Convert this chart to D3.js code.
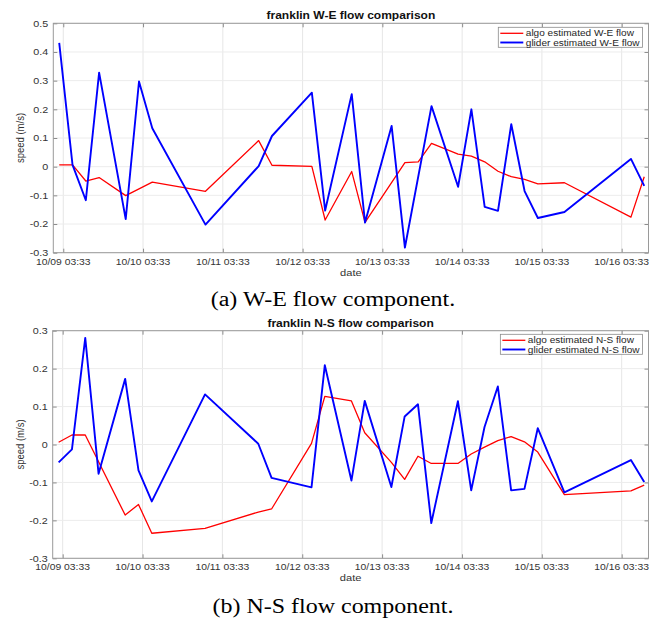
<!DOCTYPE html>
<html>
<head>
<meta charset="utf-8">
<script src="https://cdn.jsdelivr.net/npm/d3@7"></script>
<style>
  html, body { margin: 0; padding: 0; background: #fff; }
  svg { display: block; }
</style>
</head>
<body>
<svg id="chart" width="649" height="620"></svg>
<script>
// ---------------- DATA ----------------
const xTickLabels = ["10/09 03:33","10/10 03:33","10/11 03:33","10/12 03:33","10/13 03:33","10/14 03:33","10/15 03:33","10/16 03:33"];
const weYTicks = [-0.3,-0.2,-0.1,0,0.1,0.2,0.3,0.4,0.5];
const nsYTicks = [-0.3,-0.2,-0.1,0,0.1,0.2,0.3];

// W-E, algo estimate
const weAlgoTimes = ["10/09 02:20","10/09 06:20","10/09 10:20","10/09 14:20","10/09 22:20","10/10 06:20","10/10 22:20","10/11 14:20","10/11 18:20","10/12 06:20","10/12 10:20","10/12 18:20","10/12 22:20","10/13 10:20","10/13 14:20","10/13 18:20","10/14 02:20","10/14 06:20","10/14 10:20","10/14 14:20","10/14 18:20","10/14 22:20","10/15 02:20","10/15 10:20","10/16 06:20","10/16 10:20"];
const weAlgo = [0.006,0.006,-0.050,-0.038,-0.101,-0.054,-0.086,0.091,0.005,0.001,-0.186,-0.017,-0.194,0.014,0.017,0.081,0.044,0.037,0.017,-0.016,-0.035,-0.044,-0.060,-0.056,-0.176,-0.035];

// W-E, glider estimate
const weGliderTimes = ["10/09 02:20","10/09 06:20","10/09 10:20","10/09 14:20","10/09 22:20","10/10 02:20","10/10 06:20","10/10 22:20","10/11 14:20","10/11 18:20","10/12 06:20","10/12 10:20","10/12 18:20","10/12 22:20","10/13 06:20","10/13 10:20","10/13 18:20","10/14 02:20","10/14 06:20","10/14 10:20","10/14 14:20","10/14 18:20","10/14 22:20","10/15 02:20","10/15 10:20","10/16 06:20","10/16 10:20"];
const weGlider = [0.432,0.006,-0.117,0.328,-0.183,0.297,0.134,-0.202,0.002,0.107,0.258,-0.153,0.253,-0.195,0.142,-0.282,0.211,-0.070,0.200,-0.140,-0.154,0.148,-0.085,-0.179,-0.158,0.027,-0.067];

// N-S, algo estimate
const nsAlgoTimes = ["10/09 02:20","10/09 06:20","10/09 10:20","10/09 22:20","10/10 02:20","10/10 06:20","10/10 22:20","10/11 14:20","10/11 18:20","10/12 06:20","10/12 10:20","10/12 18:20","10/12 22:20","10/13 06:20","10/13 10:20","10/13 14:20","10/13 18:20","10/14 02:20","10/14 06:20","10/14 10:20","10/14 14:20","10/14 18:20","10/14 22:20","10/15 02:20","10/15 10:20","10/16 06:20","10/16 10:20"];
const nsAlgo = [0.006,0.025,0.025,-0.186,-0.158,-0.234,-0.221,-0.178,-0.170,0.003,0.127,0.115,0.031,-0.047,-0.092,-0.031,-0.050,-0.050,-0.025,-0.007,0.010,0.021,0.007,-0.020,-0.132,-0.122,-0.107];

// N-S, glider estimate
const nsGliderTimes = ["10/09 02:20","10/09 06:20","10/09 10:20","10/09 14:20","10/09 22:20","10/10 02:20","10/10 06:20","10/10 22:20","10/11 14:20","10/11 18:20","10/12 06:20","10/12 10:20","10/12 18:20","10/12 22:20","10/13 06:20","10/13 10:20","10/13 14:20","10/13 18:20","10/14 02:20","10/14 06:20","10/14 10:20","10/14 14:20","10/14 18:20","10/14 22:20","10/15 02:20","10/15 10:20","10/16 06:20","10/16 10:20"];
const nsGlider = [-0.047,-0.013,0.281,-0.077,0.173,-0.068,-0.150,0.132,0.002,-0.088,-0.113,0.209,-0.095,0.115,-0.112,0.074,0.106,-0.207,0.114,-0.121,0.046,0.153,-0.121,-0.117,0.043,-0.126,-0.041,-0.099];

const xDomainLabels = ["10/09 00:33","10/16 11:37"];

// ---------------- DRAWING ----------------
const parse = d3.utcParse("%m/%d %H:%M");
const S = 1.17;               // horizontal stretch of the original figure
const SANS = "'Liberation Sans', Arial, Helvetica, sans-serif";
const SERIF = "'Liberation Serif', 'Times New Roman', serif";
const svg = d3.select("#chart");

function txt(g, x, y, str, o = {}) {
  const sx = o.sx || S;
  const t = g.append("text")
    .attr("transform", `translate(${x},${y}) scale(${sx},1)` + (o.rotate ? ` rotate(${o.rotate})` : ""))
    .attr("text-anchor", o.anchor || "start")
    .attr("font-family", o.family || SANS)
    .attr("font-size", o.size || 9.5)
    .attr("font-weight", o.weight || "normal")
    .attr("fill", o.fill || "#262626")
    .text(str);
  return t;
}

const fmtY = v => Math.abs(v) < 1e-9 ? "0" : (v < 0 ? "-" : "") + d3.format(".1f")(Math.abs(v));

function panel(cfg) {
  const g = svg.append("g");
  const x = d3.scaleUtc().domain(xDomainLabels.map(parse)).range([cfg.left, cfg.right]);
  const y = d3.scaleLinear().domain(cfg.yDomain).range([cfg.bottom, cfg.top]);
  const xt = xTickLabels.map(parse);

  g.append("rect").attr("x", cfg.left).attr("y", cfg.top)
    .attr("width", cfg.right - cfg.left).attr("height", cfg.bottom - cfg.top).attr("fill", "#fff");

  // grid
  g.append("g").selectAll("line").data(xt).join("line")
    .attr("x1", d => x(d)).attr("x2", d => x(d)).attr("y1", cfg.top).attr("y2", cfg.bottom)
    .attr("stroke", "#e6e6e6").attr("stroke-width", 1);
  g.append("g").selectAll("line").data(cfg.yTicks).join("line")
    .attr("x1", cfg.left).attr("x2", cfg.right).attr("y1", d => y(d)).attr("y2", d => y(d))
    .attr("stroke", "#ececec").attr("stroke-width", 1);

  // ticks on all four sides
  const tl = 4;
  const axB = g.append("g").attr("transform", `translate(0,${cfg.bottom})`)
    .call(d3.axisBottom(x).tickValues(xt).tickSize(-tl).tickFormat(""));
  const axT = g.append("g").attr("transform", `translate(0,${cfg.top})`)
    .call(d3.axisTop(x).tickValues(xt).tickSize(-tl).tickFormat(""));
  const axL = g.append("g").attr("transform", `translate(${cfg.left},0)`)
    .call(d3.axisLeft(y).tickValues(cfg.yTicks).tickSize(-tl).tickFormat(""));
  const axR = g.append("g").attr("transform", `translate(${cfg.right},0)`)
    .call(d3.axisRight(y).tickValues(cfg.yTicks).tickSize(-tl).tickFormat(""));
  [axB, axT, axL, axR].forEach(a => {
    a.select(".domain").remove();
    a.selectAll(".tick line").attr("stroke", "#8c8c8c");
  });
  g.append("rect").attr("x", cfg.left).attr("y", cfg.top)
    .attr("width", cfg.right - cfg.left).attr("height", cfg.bottom - cfg.top)
    .attr("fill", "none").attr("stroke", "#9a9a9a").attr("stroke-width", 1);

  // tick labels
  xt.forEach((d, i) => txt(g, x(d), cfg.bottom + 12, xTickLabels[i], { anchor: "middle", fill: "#333", size: 9, sx: 1.15 }));
  cfg.yTicks.forEach(v => txt(g, cfg.left - 5, y(v) + 3.2, fmtY(v), { anchor: "end", fill: "#333", size: 9.2 }));

  // axis labels
  txt(g, (cfg.left + cfg.right) / 2, cfg.bottom + 23, "date", { anchor: "middle", fill: "#333" });
  txt(g, 24, (cfg.top + cfg.bottom) / 2, "speed (m/s)", { anchor: "middle", rotate: -90, fill: "#333" });

  // title
  txt(g, (cfg.left + cfg.right) / 2, cfg.top - 4, cfg.title, { anchor: "middle", weight: "bold", size: 10.3, fill: "#111" });

  // series
  const clipId = "clip" + cfg.id;
  g.append("clipPath").attr("id", clipId).append("rect")
    .attr("x", cfg.left).attr("y", cfg.top).attr("width", cfg.right - cfg.left).attr("height", cfg.bottom - cfg.top);
  const line = d3.line().x(d => x(d.t)).y(d => y(d.v));
  const mk = (times, vals) => times.map((t, i) => ({ t: parse(t), v: vals[i] }));
  const plot = g.append("g").attr("clip-path", `url(#${clipId})`);
  plot.append("path").datum(mk(cfg.algoTimes, cfg.algo)).attr("d", line)
    .attr("fill", "none").attr("stroke", "#ff0000").attr("stroke-width", 1.3).attr("stroke-linejoin", "round");
  plot.append("path").datum(mk(cfg.gliderTimes, cfg.glider)).attr("d", line)
    .attr("fill", "none").attr("stroke", "#0000ff").attr("stroke-width", 1.9).attr("stroke-linejoin", "round");

  // legend
  const lg = g.append("g");
  const box = lg.append("rect").attr("fill", "#fff").attr("stroke", "#8a8a8a").attr("stroke-width", 0.8);
  const rowY = [cfg.legTop + 6, cfg.legTop + 15.2];
  let maxW = 0;
  const texts = cfg.legend.map((n, i) => {
    const t = txt(lg, 0, rowY[i] + 3, n, { size: 8.6, fill: "#262626" });
    maxW = Math.max(maxW, t.node().getComputedTextLength() * S);
    return t;
  });
  const boxRight = cfg.right - 6;
  const textX = boxRight - 3 - maxW;
  const lineX2 = textX - 2.5, lineX1 = lineX2 - 23;
  const boxLeft = lineX1 - 2;
  texts.forEach((t, i) => t.attr("transform", `translate(${textX},${rowY[i] + 3}) scale(${S},1)`));
  box.attr("x", boxLeft).attr("y", cfg.legTop).attr("width", boxRight - boxLeft).attr("height", 20);
  ["#ff0000", "#0000ff"].forEach((c, i) => lg.append("line")
    .attr("x1", lineX1).attr("x2", lineX2).attr("y1", rowY[i]).attr("y2", rowY[i])
    .attr("stroke", c).attr("stroke-width", i === 0 ? 1.3 : 1.9));

  // caption
  txt(svg, 333, cfg.captionY, cfg.caption, { anchor: "middle", family: SERIF, size: 20.5, fill: "#000" });
}

panel({
  id: "we", left: 53.3, right: 648.5, top: 23.3, bottom: 252.7, yDomain: [-0.3, 0.5], yTicks: weYTicks,
  title: "franklin W-E flow comparison", legend: ["algo estimated W-E flow", "glider estimated W-E flow"],
  algoTimes: weAlgoTimes, algo: weAlgo, gliderTimes: weGliderTimes, glider: weGlider,
  legTop: 27.3, caption: "(a) W-E flow component.", captionY: 306
});
panel({
  id: "ns", left: 52.7, right: 648.5, top: 330.7, bottom: 558.3, yDomain: [-0.3, 0.3], yTicks: nsYTicks,
  title: "franklin N-S flow comparison", legend: ["algo estimated N-S flow", "glider estimated N-S flow"],
  algoTimes: nsAlgoTimes, algo: nsAlgo, gliderTimes: nsGliderTimes, glider: nsGlider,
  legTop: 334.3, caption: "(b) N-S flow component.", captionY: 613
});
</script>
</body>
</html>
